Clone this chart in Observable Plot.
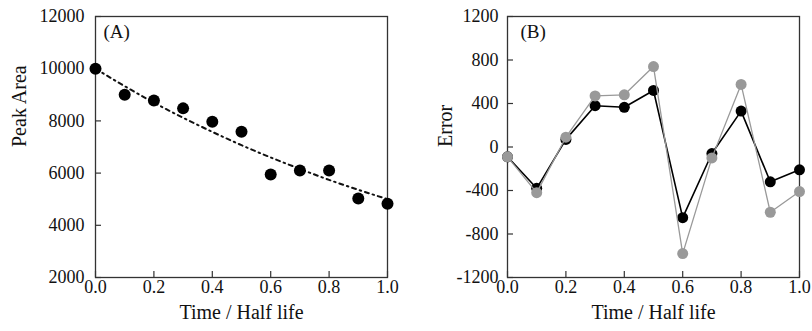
<!DOCTYPE html>
<html><head><meta charset="utf-8">
<script src="https://cdn.jsdelivr.net/npm/d3@7"></script>
<script src="https://cdn.jsdelivr.net/npm/@observablehq/plot@0.6"></script>
<style>
body{margin:0;background:#fff;}
#wrap{display:flex;width:812px;height:331px;}
svg, svg text{font-family:"Liberation Serif",serif !important;}
</style></head>
<body><div id="wrap"></div>
<script>
const time = [0.0,0.1,0.2,0.3,0.4,0.5,0.6,0.7,0.8,0.9,1.0];
const peakArea = [10000,9000,8780,8480,7970,7580,5950,6100,6100,5030,4830];
const fitArea = [10000,9330,8700,8120,7580,7070,6600,6160,5740,5360,5000];
const errorBlack = [-90,-380,70,380,365,520,-650,-60,330,-320,-210];
const errorGray = [-90,-420,90,470,480,740,-980,-100,575,-600,-410];
const xTicks = [0,0.2,0.4,0.6,0.8,1.0];
const yTicksA = [2000,4000,6000,8000,10000,12000];
const yTicksB = [-1200,-800,-400,0,400,800,1200];

const rowsA = time.map((t,i)=>({t, v:peakArea[i], f:fitArea[i]}));
const rowsB = time.map((t,i)=>({t, b:errorBlack[i], g:errorGray[i]}));

const W = 406, H = 331, MT = 16, MB = 54;
const FW = 292, FH = H - MT - MB, TL = 6;
const common = {width:W, height:H, marginTop:MT, marginBottom:MB, style:{fontFamily:"Liberation Serif, serif", fontSize:"18px", color:"#111"}};
const ax = {fontSize:18, fontFamily:"Liberation Serif", fill:"#111", tickSize:0, label:null};
const tk = {stroke:"#333", strokeWidth:1.2};

const A = Plot.plot({
  ...common, marginLeft:95, marginRight:W-95-FW,
  x:{domain:[0,1]}, y:{domain:[2000,12000]},
  marks:[
    Plot.axisX(xTicks,{...ax, tickPadding:3, tickFormat:d=>d.toFixed(1)}),
    Plot.axisY(yTicksA,{...ax, tickPadding:11, tickFormat:d=>String(d)}),
    Plot.tickX(xTicks,{x:d=>d, insetTop:FH-TL, ...tk}),
    Plot.tickY(yTicksA,{y:d=>d, insetRight:FW-TL, ...tk}),
    Plot.frame({stroke:"#333", strokeWidth:1.3}),
    Plot.line(rowsA,{x:"t", y:"f", curve:"natural", stroke:"#111", strokeWidth:2, strokeDasharray:"4,4,1.5,4"}),
    Plot.dot(rowsA,{x:"t", y:"v", r:6, fill:"#000"}),
    Plot.text(["(A)"],{frameAnchor:"top-left", dx:8, dy:8, textAnchor:"start", lineAnchor:"top", fontSize:19, fill:"#111"}),
    Plot.text(["Peak Area"],{frameAnchor:"left", dx:-76, rotate:-90, fontSize:20, fill:"#111"}),
    Plot.text(["Time / Half life"],{frameAnchor:"bottom", dy:41, fontSize:20, fill:"#111"})
  ]
});
const B = Plot.plot({
  ...common, marginLeft:101, marginRight:W-101-FW,
  x:{domain:[0,1]}, y:{domain:[-1200,1200]},
  marks:[
    Plot.axisX(xTicks,{...ax, tickPadding:3, tickFormat:d=>d.toFixed(1)}),
    Plot.axisY(yTicksB,{...ax, tickPadding:9, tickFormat:d=>String(d)}),
    Plot.tickX(xTicks,{x:d=>d, insetTop:FH-TL, ...tk}),
    Plot.tickY(yTicksB,{y:d=>d, insetRight:FW-TL, ...tk}),
    Plot.frame({stroke:"#333", strokeWidth:1.3}),
    Plot.line(rowsB,{x:"t", y:"b", stroke:"#000", strokeWidth:1.6}),
    Plot.dot(rowsB,{x:"t", y:"b", r:5.5, fill:"#000"}),
    Plot.line(rowsB,{x:"t", y:"g", stroke:"#999", strokeWidth:1.3}),
    Plot.dot(rowsB,{x:"t", y:"g", r:5.5, fill:"#999"}),
    Plot.text(["(B)"],{frameAnchor:"top-left", dx:13, dy:8, textAnchor:"start", lineAnchor:"top", fontSize:19, fill:"#111"}),
    Plot.text(["Error"],{frameAnchor:"left", dx:-62, rotate:-90, fontSize:20, fill:"#111"}),
    Plot.text(["Time / Half life"],{frameAnchor:"bottom", dy:41, fontSize:20, fill:"#111"})
  ]
});
document.getElementById("wrap").append(A,B);
</script></body></html>
